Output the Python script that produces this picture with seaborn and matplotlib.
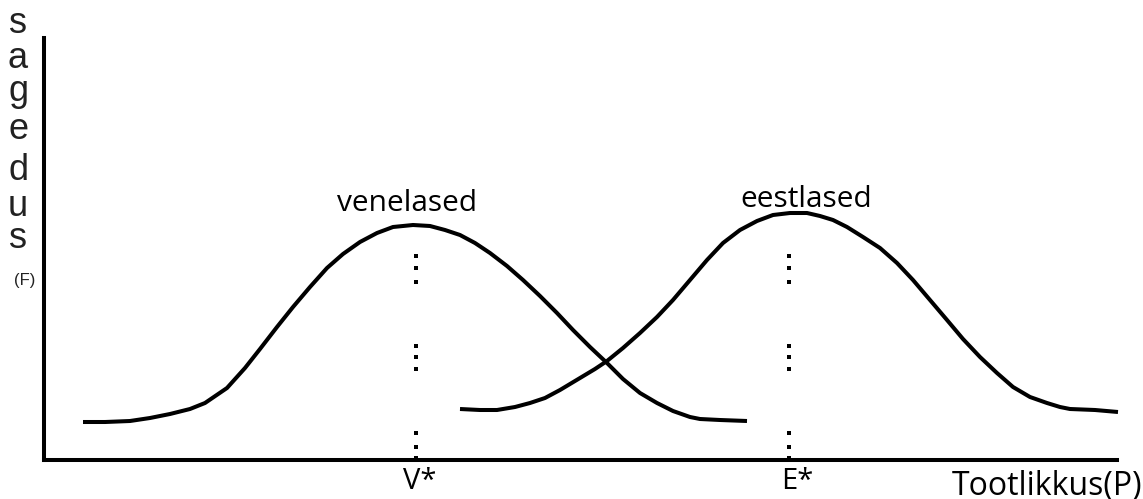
import matplotlib
matplotlib.use("Agg")
import matplotlib.pyplot as plt
import seaborn as sns
import pandas as pd

# ---- data (units: arbitrary productivity / frequency) ----
ven_x = [39, 61, 86, 106, 126, 146, 161, 183, 201, 216, 233, 249, 266, 283, 299,
         316, 333, 349, 369, 386, 401, 416, 431, 446, 463, 479, 496, 513, 529,
         546, 563, 579, 596, 613, 629, 646, 656, 676, 703]
ven_y = [38, 38, 39, 42, 46, 51, 57, 72, 92, 111, 133, 153, 173, 192, 206,
         218, 227, 233, 235, 234, 230, 225, 217, 207, 194, 180, 164, 147, 130,
         113, 97, 81, 67, 57, 49, 43, 41, 40, 39]

est_x = [416, 436, 453, 471, 486, 501, 516, 536, 551, 563, 579, 596, 613, 629,
         646, 663, 679, 696, 713, 729, 746, 763, 776, 789, 803, 819, 836, 853,
         869, 886, 903, 919, 936, 953, 969, 986, 1003, 1016, 1026, 1051, 1074]
est_y = [51, 50, 50, 53, 57, 62, 70, 82, 91, 99, 112, 127, 143, 160,
         180, 200, 217, 230, 239, 245, 247, 247, 244, 240, 233, 223, 212, 197,
         180, 160, 140, 121, 103, 87, 73, 63, 57, 53, 51, 50, 48]

series_names = ["venelased", "eestlased"]
mean_x = [372, 745]
dot_y = [204, 192, 178, 114, 103, 91, 27, 13, 2]
tick_labels = ["V*", "E*"]
tick_pos = [376, 753]
x_title = "Tootlikkus(P)"
y_letters = ["s", "a", "g", "e", "d", "u", "s"]
y_unit = "(F)"

# ---- figure ----
sns.set_theme(style="white")
plt.rcParams["font.family"] = ["Open Sans", "DejaVu Sans"]

W, H = 1143, 499
fig = plt.figure(figsize=(W / 100, H / 100), dpi=100)
ax = fig.add_axes([44 / W, 39 / H, 1073 / W, 422 / H])

curves = pd.concat([
    pd.DataFrame({"x": ven_x, "y": ven_y, "grp": series_names[0]}),
    pd.DataFrame({"x": est_x, "y": est_y, "grp": series_names[1]}),
])
for name, sub in curves.groupby("grp", sort=False):
    sns.lineplot(data=sub, x="x", y="y", ax=ax, sort=False, color="black",
                 linewidth=2.9, solid_capstyle="butt", solid_joinstyle="round",
                 estimator=None, clip_on=False)

dots = pd.DataFrame({"x": [m for m in mean_x for _ in dot_y],
                     "y": dot_y * len(mean_x)})
sns.scatterplot(data=dots, x="x", y="y", ax=ax, marker="s", s=9,
                color="black", edgecolor="none", clip_on=False, zorder=3)

ax.set_xlim(0, 1073)
ax.set_ylim(0, 422)
for s in ["top", "right"]:
    ax.spines[s].set_visible(False)
for s in ["left", "bottom"]:
    ax.spines[s].set_color("black")
    ax.spines[s].set_linewidth(2.9)
ax.set_yticks([])
ax.set_xticks(tick_pos, tick_labels, fontsize=21)
ax.tick_params(axis="x", length=0, pad=5, colors="black")
ax.set_xlabel("")
ax.set_ylabel("")

# curve labels
ax.text(363, 249, series_names[0], ha="center", va="baseline", fontsize=21.5,
        color="black")
ax.text(762, 253, series_names[1], ha="center", va="baseline", fontsize=21.5,
        color="black")

# x title
fig.text(952 / W, 1 - 495 / H, x_title, ha="left", va="baseline", fontsize=23,
         color="black")

# vertical y label, one letter per line
baselines = [33, 68, 101, 139, 180, 216, 248]
for ch, b in zip(y_letters, baselines):
    fig.text(18 / W, 1 - b / H, ch, ha="center", va="baseline", fontsize=26,
             family=["Liberation Sans", "DejaVu Sans"], color="#222222")
fig.text(25 / W, 1 - 285 / H, y_unit, ha="center", va="baseline", fontsize=12,
         family=["Liberation Sans", "DejaVu Sans"], color="#222222")

fig.savefig("out.png", dpi=100, facecolor="white")
